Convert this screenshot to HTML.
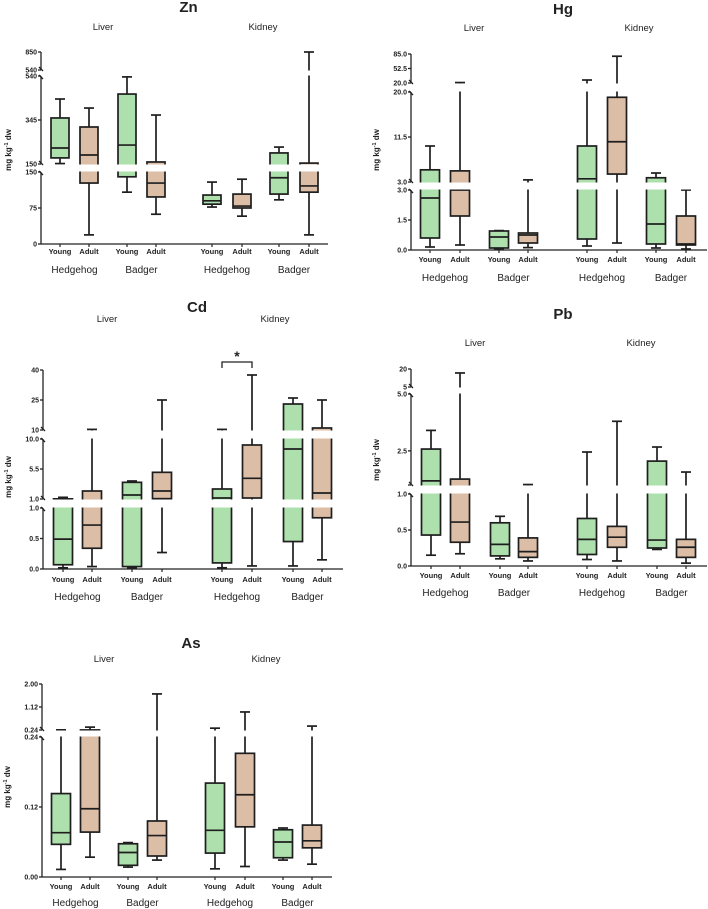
<!DOCTYPE html>
<html><head><meta charset="utf-8">
<style>
html,body{margin:0;padding:0;background:#fff;}
svg{display:block;font-family:"Liberation Sans",Arial,sans-serif;}
</style></head>
<body>
<svg id="chart" width="708" height="909" viewBox="0 0 708 909"></svg>
<script>
const categories = ["Young","Adult","Young","Adult","Young","Adult","Young","Adult"];
const groups = ["Hedgehog","Badger","Hedgehog","Badger"];
// five-number summaries [min, q1, median, q3, max]
const znStats = [[152,177,221,354,438],[19,127,190,314,398],[108,140,234,460,536],[62,98,127,159,367],
                 [77,83,90,102,129],[58,75,79,104,135],[92,104,138,199,225],[19,108,121,154,850]];
const znTicks = [[0,75,150],[150,345,540],[540,850]];
const znTickLabels = [["0","75","150"],["150","345","540"],["540","850"]];
const hgStats = [[0.15,0.6,2.6,5.3,9.8],[0.25,1.7,3.0,5.1,21],[0.05,0.1,0.65,0.95,0.97],[0.12,0.35,0.75,0.85,3.4],
                 [0.2,0.55,3.6,9.8,26.7],[0.35,4.5,10.6,19,80],[0.1,0.3,1.3,3.8,4.7],[0.05,0.25,0.3,1.7,3.0]];
const hgTicks = [[0,1.5,3],[3,11.5,20],[20,52.5,85]];
const hgTickLabels = [["0.0","1.5","3.0"],["3.0","11.5","20.0"],["20.0","52.5","85.0"]];
const cdStats = [[0.02,0.07,0.49,1.02,1.25],[0.04,0.34,0.72,2.2,10.3],[0.02,0.04,1.6,3.5,3.7],[0.27,1.05,2.2,5.0,25],
                 [0.02,0.1,1.15,2.5,10.3],[0.05,1.15,4.1,9.1,37.5],[0.05,0.45,8.5,23,26],[0.15,0.84,1.9,11,25]];
const cdTicks = [[0,0.5,1],[1,5.5,10],[10,25,40]];
const cdTickLabels = [["0.0","0.5","1.0"],["1.0","5.5","10.0"],["10","25","40"]];
const pbStats = [[0.15,0.43,1.18,2.58,3.4],[0.17,0.33,0.61,1.26,16.7],[0.1,0.14,0.3,0.6,0.69],[0.07,0.12,0.2,0.39,1.02],
                 [0.09,0.16,0.37,0.66,2.45],[0.07,0.26,0.4,0.55,3.8],[0.23,0.25,0.36,2.05,2.67],[0.04,0.12,0.26,0.37,1.57]];
const pbTicks = [[0,0.5,1],[1,2.5,5],[5,20]];
const pbTickLabels = [["0.0","0.5","1.0"],["","2.5","5.0"],["5","20"]];
const asStats = [[0.013,0.056,0.076,0.143,0.245],[0.034,0.077,0.117,0.242,0.35],[0.017,0.02,0.042,0.057,0.059],[0.029,0.036,0.071,0.096,1.62],
                 [0.014,0.041,0.08,0.161,0.31],[0.018,0.086,0.141,0.212,0.93],[0.029,0.033,0.06,0.081,0.084],[0.022,0.05,0.062,0.089,0.39]];
const asTicks = [[0,0.12,0.24],[0.24,1.12,2.00]];
const asTickLabels = [["0.00","0.12","0.24"],["0.24","1.12","2.00"]];

const NS="http://www.w3.org/2000/svg";
const svg=document.getElementById('chart');
function mk(tag,attrs,parent){const e=document.createElementNS(NS,tag);for(const k in attrs)e.setAttribute(k,attrs[k]);(parent||svg).appendChild(e);return e;}
function txt(s,x,y,size,weight,anchor,parent){const t=mk('text',{x:x,y:y,'font-size':size,'font-weight':weight||'normal','text-anchor':anchor||'middle',fill:'#222'},parent);t.textContent=s;return t;}

const panels=[
 {key:'zn',title:'Zn',stats:znStats,ticks:znTicks,labels:znTickLabels,ax:41,xEnd:328,
  segs:[{lo:0,hi:150,y0:244,y1:172},{lo:150,hi:540,y0:164,y1:76},{lo:540,hi:850,y0:70,y1:52}],
  cx:[60,89,127,156,212,242,279,309],bw:18,titleY:12,tissueY:30,liverX:103,kidneyX:263,catY:254,grpY:273,ytX:8,ytY:150},
 {key:'hg',title:'Hg',stats:hgStats,ticks:hgTicks,labels:hgTickLabels,ax:411,xEnd:707,
  segs:[{lo:0,hi:3,y0:250,y1:190},{lo:3,hi:20,y0:182,y1:92},{lo:20,hi:85,y0:83,y1:54}],
  cx:[430,460,499,528,587,617,656,686],bw:19,titleY:14,tissueY:31,liverX:474,kidneyX:639,catY:262,grpY:281,ytX:376,ytY:150},
 {key:'cd',title:'Cd',stats:cdStats,ticks:cdTicks,labels:cdTickLabels,ax:43,xEnd:343,
  segs:[{lo:0,hi:1,y0:569,y1:508},{lo:1,hi:10,y0:499,y1:439},{lo:10,hi:40,y0:430,y1:370}],
  cx:[63,92,132,162,222,252,293,322],bw:19,titleY:312,tissueY:322,liverX:107,kidneyX:275,catY:582,grpY:600,ytX:8,ytY:477,star:[4,5,362]},
 {key:'pb',title:'Pb',stats:pbStats,ticks:pbTicks,labels:pbTickLabels,ax:411,xEnd:707,
  segs:[{lo:0,hi:1,y0:566,y1:494},{lo:1,hi:5,y0:485,y1:394},{lo:5,hi:20,y0:387,y1:369}],
  cx:[431,460,500,528,587,617,657,686],bw:19,titleY:319,tissueY:346,liverX:475,kidneyX:641,catY:578,grpY:596,ytX:376,ytY:460},
 {key:'as',title:'As',stats:asStats,ticks:asTicks,labels:asTickLabels,ax:42,xEnd:332,
  segs:[{lo:0,hi:0.24,y0:877,y1:737},{lo:0.24,hi:2.0,y0:730,y1:684}],
  cx:[61,90,128,157,215,245,283,312],bw:19,titleY:648,tissueY:662,liverX:104,kidneyX:266,catY:889,grpY:906,ytX:7,ytY:787}
];

function makeScale(segs){
  return function(v){
    let s=segs[segs.length-1];
    for(const sg of segs){ if(v<=sg.hi){ s=sg; break; } }
    return s.y0+(v-s.lo)/(s.hi-s.lo)*(s.y1-s.y0);
  };
}
function segScale(s,v){return s.y0+(v-s.lo)/(s.hi-s.lo)*(s.y1-s.y0);}

panels.forEach(p=>{
  const g=mk('g',{});
  
  
  const y=makeScale(p.segs);
  const t=txt(p.title,(p.ax+p.xEnd)/2+4,p.titleY,15,'bold','middle',g);
  
  
  const l=txt('Liver',p.liverX,p.tissueY,9.5,'normal','middle',g);
  
  
  const k=txt('Kidney',p.kidneyX,p.tissueY,9.5,'normal','middle',g);
  
  
  // y axis title
  const yt=mk('text',{x:0,y:0,'font-size':8,'font-weight':'bold','text-anchor':'middle',fill:'#222',transform:`translate(${p.ytX+3},${p.ytY}) rotate(-90)`},g);
  yt.innerHTML='mg kg<tspan dy="-3" font-size="5.5">-1</tspan><tspan dy="3"> dw</tspan>';
  
  
  // boxes
  const base=p.segs[0].y0;
  p.stats.forEach((st,i)=>{
    const bx=mk('g',{stroke:'#1e1e1e','stroke-width':1.7,fill:'none'},g);
    
    
    const c=p.cx[i], hw=p.bw/2, cw=5;
    const [mn,q1,md,q3,mx]=st.map(y);
    mk('line',{x1:c,y1:mn,x2:c,y2:q1},bx);
    mk('line',{x1:c,y1:q3,x2:c,y2:mx},bx);
    mk('line',{x1:c-cw,y1:mn,x2:c+cw,y2:mn},bx);
    mk('line',{x1:c-cw,y1:mx,x2:c+cw,y2:mx},bx);
    mk('rect',{x:c-hw,y:q3,width:p.bw,height:Math.max(0.5,q1-q3),fill:(i%2===0)?'#ade0ad':'#dcbda6'},bx);
    mk('line',{x1:c-hw,y1:md,x2:c+hw,y2:md},bx);
  });
  // break bands
  for(let i=0;i<p.segs.length-1;i++){
    const a=p.segs[i].y1, b=p.segs[i+1].y0;
    const r=mk('rect',{x:p.ax+1,y:b+0.5,width:p.xEnd-p.ax,height:a-b-1,fill:'#fff'},g);
    
    
  }
  // y axis segments with break marks
  const ax=mk('g',{stroke:'#222','stroke-width':1.3},g);
  
  
  p.segs.forEach((s,si)=>{
    mk('line',{x1:p.ax,y1:s.y0,x2:p.ax,y2:s.y1},ax);
    if(si>0) mk('line',{x1:p.ax-2,y1:s.y0-3,x2:p.ax+2,y2:s.y0+1},ax);
    if(si<p.segs.length-1) mk('line',{x1:p.ax-2,y1:s.y1-1,x2:p.ax+2,y2:s.y1+3},ax);
    p.ticks[si].forEach((v,ti)=>{
      const yy=segScale(s,v);
      mk('line',{x1:p.ax-3,y1:yy,x2:p.ax,y2:yy},ax);
      const lab=p.labels[si][ti];
      if(lab){
        const tl=txt(lab,p.ax-4,yy+2.5,7,'bold','end',g);
        
        
      }
    });
  });
  // x axis
  const xa=mk('line',{x1:p.ax,y1:base,x2:p.xEnd,y2:base,stroke:'#222','stroke-width':1.3},g);
  
  
  categories.forEach((c,i)=>{
    mk('line',{x1:p.cx[i],y1:base,x2:p.cx[i],y2:base+3,stroke:'#222','stroke-width':1.2},g);
    const cl=txt(c,p.cx[i],p.catY,7.5,'bold','middle',g);
    
    
  });
  groups.forEach((gr,j)=>{
    const gl=txt(gr,(p.cx[2*j]+p.cx[2*j+1])/2,p.grpY,10,'normal','middle',g);
    
    
  });
  if(p.star){
    const [a,b,yy]=p.star;
    const sb=mk('path',{d:`M${p.cx[a]},${yy+6} V${yy} H${p.cx[b]} V${yy+6}`,stroke:'#222','stroke-width':1.3,fill:'none'},g);
    
    
    const s=txt('*',(p.cx[a]+p.cx[b])/2,yy-1,14,'bold','middle',g);
    
    
  }
});
</script>
</body></html>
